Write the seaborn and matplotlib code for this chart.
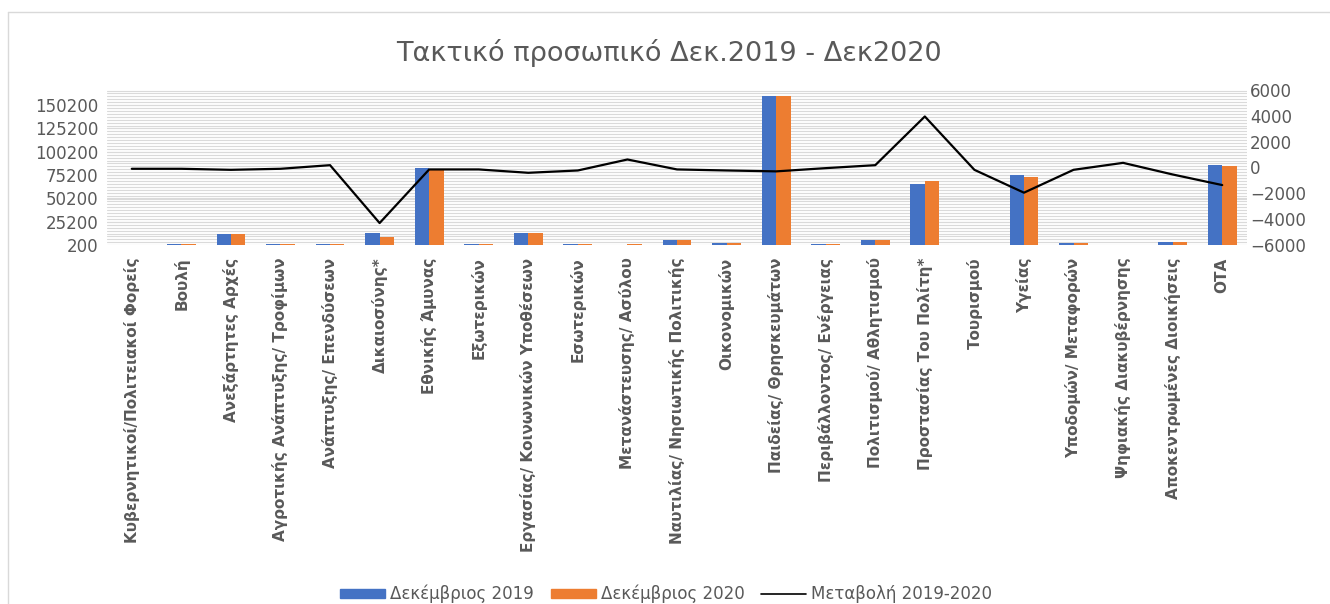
import numpy as np
import pandas as pd
import matplotlib
matplotlib.use("Agg")
import matplotlib.pyplot as plt
import seaborn as sns
from matplotlib.patches import Patch
from matplotlib.lines import Line2D
from matplotlib.ticker import MultipleLocator, FixedLocator

categories = ['Κυβερνητικοί/Πολιτειακοί Φορείς', 'Βουλή', 'Ανεξάρτητες Αρχές',
              'Αγροτικής Ανάπτυξης/ Τροφίμων', 'Ανάπτυξης/ Επενδύσεων', 'Δικαιοσύνης*',
              'Εθνικής Άμυνας', 'Εξωτερικών', 'Εργασίας/ Κοινωνικών Υποθέσεων',
              'Εσωτερικών', 'Μετανάστευσης/ Ασύλου', 'Ναυτιλίας/ Νησιωτικής Πολιτικής',
              'Οικονομικών', 'Παιδείας/ Θρησκευμάτων', 'Περιβάλλοντος/ Ενέργειας',
              'Πολιτισμού/ Αθλητισμού', 'Προστασίας Του Πολίτη*', 'Τουρισμού', 'Υγείας',
              'Υποδομών/ Μεταφορών', 'Ψηφιακής Διακυβέρνησης', 'Αποκεντρωμένες Διοικήσεις', 'ΟΤΑ']

dec2019 = [300, 1500, 12000, 1500, 1500, 13300, 82200, 1500, 13500, 1500, 300, 5600,
           2500, 160200, 1500, 5600, 65000, 300, 75400, 2200, 300, 3900, 86200]
dec2020 = [200, 1400, 11800, 1400, 1700, 9000, 82000, 1350, 13100, 1300, 900, 5450,
           2300, 159900, 1450, 5750, 68950, 120, 73450, 2000, 650, 3400, 84840]
change = [-100, -100, -180, -100, 180, -4300, -150, -150, -410, -230, 620, -150,
          -230, -300, -50, 180, 3950, -180, -1950, -180, 360, -540, -1360]

blue = '#4472C4'
orange = '#ED7D31'
grey_txt = '#595959'

df = pd.DataFrame({
    'cat': categories * 2,
    'val': dec2019 + dec2020,
    'year': ['Δεκέμβριος 2019'] * len(categories) + ['Δεκέμβριος 2020'] * len(categories),
})

sns.set_theme(style='white')
plt.rcParams['font.family'] = ['DejaVu Sans']

fig = plt.figure(figsize=(13.3, 6.04), dpi=100)
ax = fig.add_axes([107 / 1330, 359 / 604, 1140 / 1330, 155 / 604])

sns.barplot(data=df, x='cat', y='val', hue='year', palette=[blue, orange],
            width=0.58, gap=0, ax=ax, legend=False, saturation=1, errorbar=None,
            linewidth=0)

ax.set_ylim(200, 166200)
ax.yaxis.set_major_locator(FixedLocator(np.arange(200, 150201, 25000)))
ax.yaxis.set_minor_locator(MultipleLocator(3125))
ax.set_xlim(-0.5, len(categories) - 0.5)
ax.grid(True, which='both', axis='y', color='#dadada', linewidth=0.8)
ax.set_axisbelow(True)
ax.set_xlabel('')
ax.set_ylabel('')
for s in ax.spines.values():
    s.set_visible(False)
ax.tick_params(axis='y', which='both', labelsize=12, labelcolor=grey_txt, length=0, pad=6)
ax.tick_params(axis='x', length=0, pad=9)
ax.set_xticks(range(len(categories)))
ax.set_xticklabels(categories, rotation=90, fontsize=11, fontweight='bold', color=grey_txt)

ax2 = ax.twinx()
sns.lineplot(x=np.arange(len(categories)), y=change, color='black', linewidth=1.6, ax=ax2)
ax2.set_ylim(-6000, 6000)
ax2.set_yticks(np.arange(-6000, 6001, 2000))
ax2.tick_params(axis='y', labelsize=12, labelcolor=grey_txt, length=0, pad=2)
for s in ax2.spines.values():
    s.set_visible(False)
ax2.grid(False)

fig.text(0.503, 1 - 53 / 604, 'Τακτικό προσωπικό Δεκ.2019 - Δεκ2020', ha='center', va='center',
         fontsize=19.5, color=grey_txt)

handles = [Patch(color=blue, label='Δεκέμβριος 2019'),
           Patch(color=orange, label='Δεκέμβριος 2020'),
           Line2D([0], [0], color='black', linewidth=1.2, label='Μεταβολή 2019-2020')]
fig.legend(handles=handles, loc='center', bbox_to_anchor=(0.501, 1 - 594 / 604), ncol=3,
           frameon=False, fontsize=12, handlelength=2.7, handleheight=0.4, columnspacing=1.0,
           handletextpad=0.3, labelcolor=grey_txt, borderpad=0)

# light frame on the left and top, as in the source
fig.add_artist(Line2D([8 / 1330, 8 / 1330], [0, 1 - 12 / 604], transform=fig.transFigure,
                      color='#d9d9d9', linewidth=1))
fig.add_artist(Line2D([8 / 1330, 1], [1 - 12 / 604, 1 - 12 / 604], transform=fig.transFigure,
                      color='#d9d9d9', linewidth=1))

fig.savefig('out.png', dpi=100)
